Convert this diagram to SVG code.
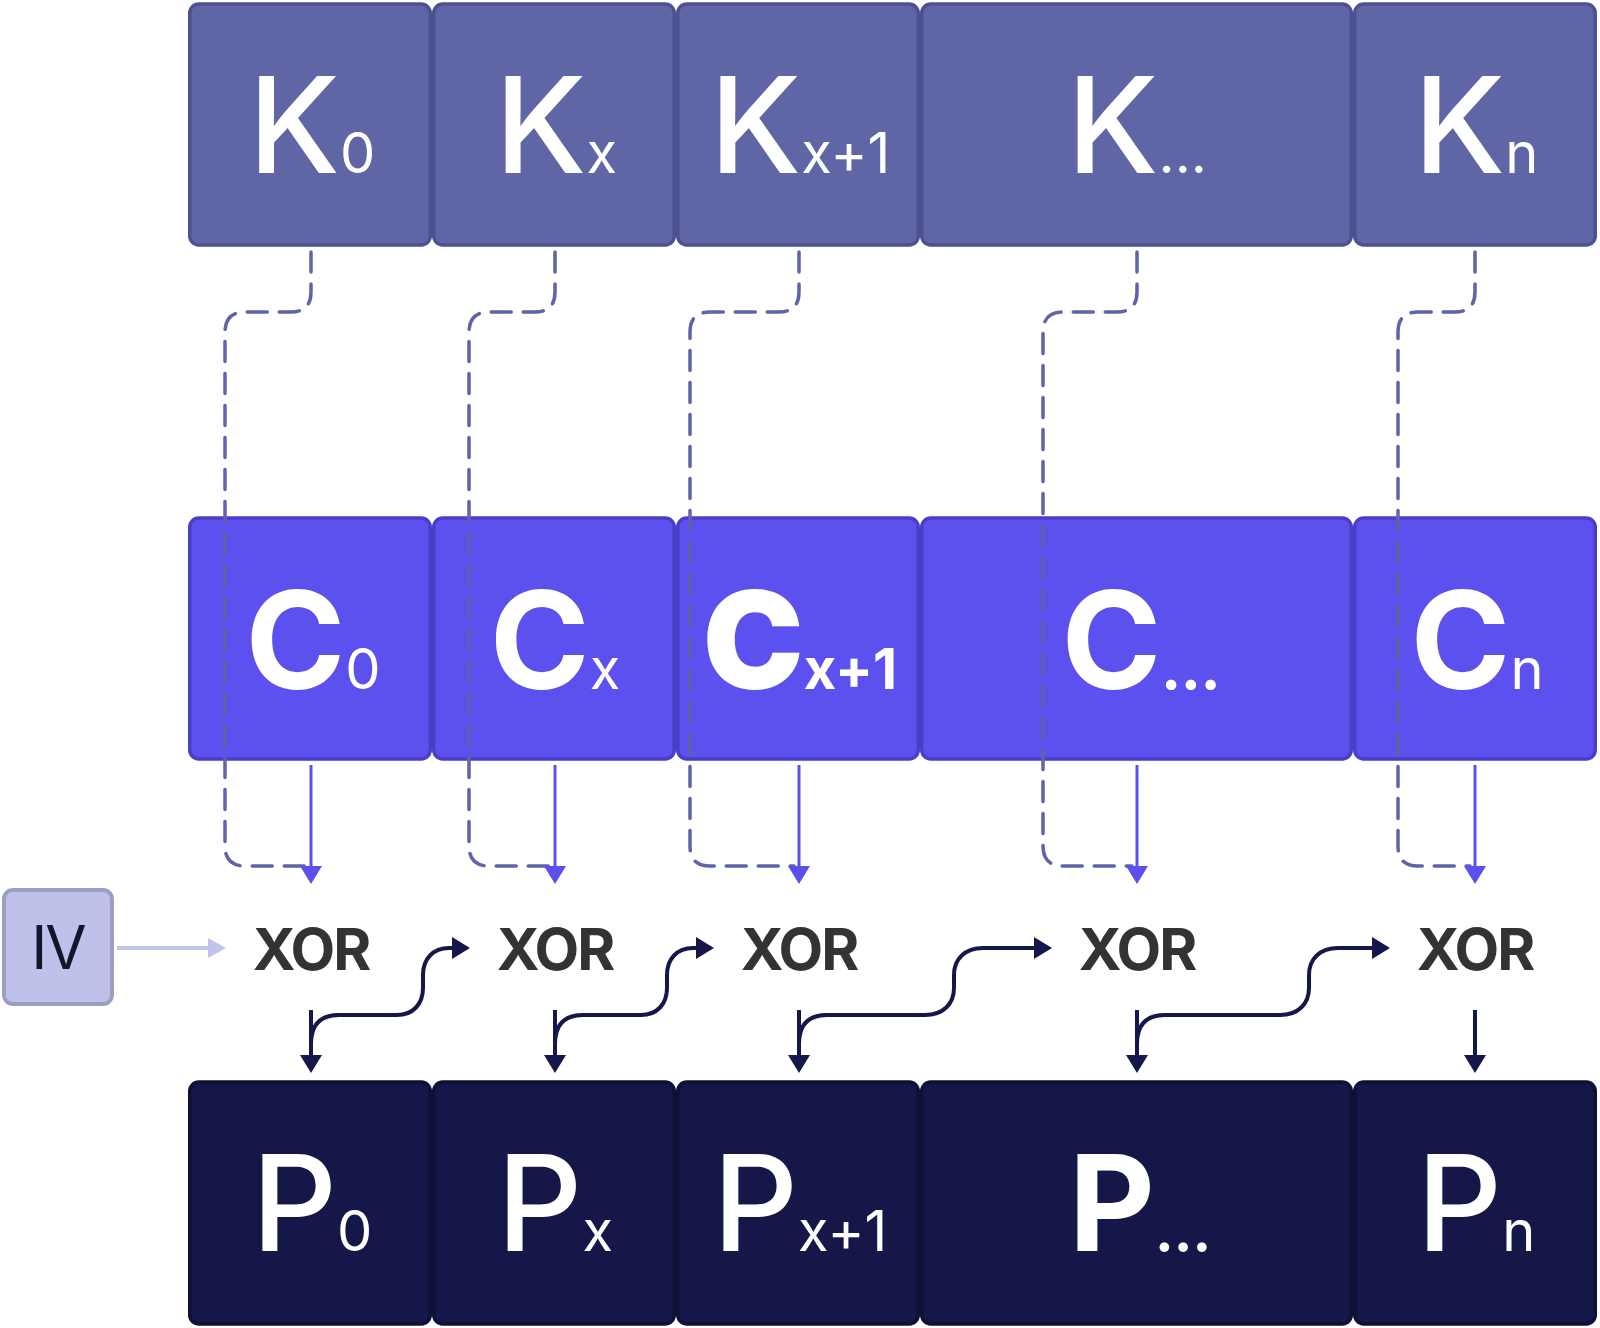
<svg xmlns="http://www.w3.org/2000/svg" width="1600" height="1328" viewBox="0 0 1600 1328">
<style>
.k{fill:#6065a6;stroke:#4c5190;stroke-width:3.5}
.c{fill:#5c50ee;stroke:#4a3ec8;stroke-width:3.5}
.p{fill:#141747;stroke:#0e1035;stroke-width:3.5}
.iv{fill:#bec2ea;stroke:#9c9fc4;stroke-width:4}
.t{font-family:Inter,'Noto Sans',sans-serif;fill:#ffffff;text-anchor:middle}
.big{font-size:133px;font-weight:500}
.bigc{font-size:135px;font-weight:700}
.sub{font-size:56px;font-weight:400}
.xor{font-family:Inter,'Noto Sans',sans-serif;font-size:58px;font-weight:700;fill:#333333;text-anchor:middle;letter-spacing:-2px}
.dash{fill:none;stroke:#5f63a8;stroke-width:3.5;stroke-dasharray:20 12;stroke-linecap:round}
.blue{fill:none;stroke:#5b4ff0;stroke-width:3}
.dark{fill:none;stroke:#15174a;stroke-width:4}
.light{fill:none;stroke:#c0c4ec;stroke-width:4}
</style>
<defs>
<marker id="ab" viewBox="0 0 18 22" refX="6" refY="11" markerWidth="18" markerHeight="22" markerUnits="userSpaceOnUse" orient="auto"><path d="M0,0 L18,11 L0,22 z" fill="#5b4ff0"/></marker>
<marker id="ad" viewBox="0 0 18 22" refX="6" refY="11" markerWidth="18" markerHeight="22" markerUnits="userSpaceOnUse" orient="auto"><path d="M0,0 L18,11 L0,22 z" fill="#15174a"/></marker>
<marker id="al" viewBox="0 0 18 20" refX="6" refY="10" markerWidth="18" markerHeight="20" markerUnits="userSpaceOnUse" orient="auto"><path d="M0,0 L18,10 L0,20 z" fill="#c0c4ec"/></marker>
</defs>

<g id="k0"><rect class="k" x="189.75" y="4" width="240.5" height="241" rx="9"/><text class="t big" x="312" y="173">K<tspan class="sub">0</tspan></text></g>
<g id="kx"><rect class="k" x="433.75" y="4" width="240.5" height="241" rx="9"/><text class="t big" x="556" y="173">K<tspan class="sub">x</tspan></text></g>
<g id="kx1"><rect class="k" x="677.75" y="4" width="240.5" height="241" rx="9"/><text class="t big" x="800" y="173">K<tspan class="sub">x+1</tspan></text></g>
<g id="kdots"><rect class="k" x="921.75" y="4" width="429.5" height="241" rx="9"/><text class="t big" x="1137" y="173">K<tspan class="sub">...</tspan></text></g>
<g id="kn"><rect class="k" x="1354.75" y="4" width="240.5" height="241" rx="9"/><text class="t big" x="1476" y="173">K<tspan class="sub">n</tspan></text></g>

<g id="c0"><rect class="c" x="189.75" y="518" width="240.5" height="241" rx="9"/><text class="t bigc" x="313" y="689">C<tspan class="sub">0</tspan></text></g>
<g id="cx"><rect class="c" x="433.75" y="518" width="240.5" height="241" rx="9"/><text class="t bigc" x="555" y="689">C<tspan class="sub">x</tspan></text></g>
<g id="cx1"><rect class="c" x="677.75" y="518" width="240.5" height="241" rx="9"/><text class="t bigc" x="800" y="689" style="font-weight:900">C<tspan class="sub" style="font-weight:700">x+1</tspan></text></g>
<g id="cdots"><rect class="c" x="921.75" y="518" width="429.5" height="241" rx="9"/><text class="t bigc" x="1141" y="689">C<tspan class="sub" style="font-weight:800">...</tspan></text></g>
<g id="cn"><rect class="c" x="1354.75" y="518" width="240.5" height="241" rx="9"/><text class="t bigc" x="1477" y="689">C<tspan class="sub">n</tspan></text></g>

<g id="p0"><rect class="p" x="189.75" y="1082" width="240.5" height="242" rx="9"/><text class="t big" x="312" y="1251">P<tspan class="sub">0</tspan></text></g>
<g id="px"><rect class="p" x="433.75" y="1082" width="240.5" height="242" rx="9"/><text class="t big" x="555" y="1251">P<tspan class="sub">x</tspan></text></g>
<g id="px1"><rect class="p" x="677.75" y="1082" width="240.5" height="242" rx="9"/><text class="t big" x="800" y="1251">P<tspan class="sub">x+1</tspan></text></g>
<g id="pdots"><rect class="p" x="921.75" y="1082" width="429.5" height="242" rx="9"/><text class="t big" x="1140" y="1251" style="font-weight:700">P<tspan class="sub" style="font-weight:700">...</tspan></text></g>
<g id="pn"><rect class="p" x="1354.75" y="1082" width="240.5" height="242" rx="9"/><text class="t big" x="1476" y="1251">P<tspan class="sub">n</tspan></text></g>

<g id="iv"><rect class="iv" x="4" y="890" width="108" height="114" rx="9"/><text x="58" y="969" font-family="Inter,'Noto Sans',sans-serif" font-size="60" font-weight="400" fill="#15152a" text-anchor="middle" letter-spacing="-2">IV</text></g>

<g id="xor0"><text class="xor" x="311" y="970">XOR</text></g>
<g id="xor1"><text class="xor" x="555" y="970">XOR</text></g>
<g id="xor2"><text class="xor" x="799" y="970">XOR</text></g>
<g id="xor3"><text class="xor" x="1137" y="970">XOR</text></g>
<g id="xor4"><text class="xor" x="1475" y="970">XOR</text></g>

<g id="connectors">
<path class="dash" d="M311,252 L311,292 Q311,312 291,312 L245,312 Q225,312 225,332 L225,846 Q225,866 245,866 L306,866"/>
<path class="dash" d="M555,252 L555,292 Q555,312 535,312 L489,312 Q469,312 469,332 L469,846 Q469,866 489,866 L550,866"/>
<path class="dash" d="M799,252 L799,292 Q799,312 779,312 L710,312 Q690,312 690,332 L690,846 Q690,866 710,866 L794,866"/>
<path class="dash" d="M1137,252 L1137,292 Q1137,312 1117,312 L1063,312 Q1043,312 1043,332 L1043,846 Q1043,866 1063,866 L1132,866"/>
<path class="dash" d="M1475,252 L1475,292 Q1475,312 1455,312 L1418,312 Q1398,312 1398,332 L1398,846 Q1398,866 1418,866 L1470,866"/>

<path class="blue" d="M311,765 L311,872" marker-end="url(#ab)"/>
<path class="blue" d="M555,765 L555,872" marker-end="url(#ab)"/>
<path class="blue" d="M799,765 L799,872" marker-end="url(#ab)"/>
<path class="blue" d="M1137,765 L1137,872" marker-end="url(#ab)"/>
<path class="blue" d="M1475,765 L1475,872" marker-end="url(#ab)"/>

<path class="light" d="M117,948 L214,948" marker-end="url(#al)"/>

<path class="dark" d="M311,1010 L311,1061" marker-end="url(#ad)"/>
<path class="dark" d="M555,1010 L555,1061" marker-end="url(#ad)"/>
<path class="dark" d="M799,1010 L799,1061" marker-end="url(#ad)"/>
<path class="dark" d="M1137,1010 L1137,1061" marker-end="url(#ad)"/>
<path class="dark" d="M1475,1010 L1475,1061" marker-end="url(#ad)"/>

<path class="dark" d="M311,1044 C311,1024 321,1015 339,1015 L397,1015 C413,1015 423,1004 423,988 L423,975 C423,959 433,948 449,948 L458,948" marker-end="url(#ad)"/>
<path class="dark" d="M555,1044 C555,1024 565,1015 583,1015 L641,1015 C657,1015 667,1004 667,988 L667,975 C667,959 677,948 693,948 L702,948" marker-end="url(#ad)"/>
<path class="dark" d="M799,1044 C799,1024 809,1015 827,1015 L925,1015 C943,1015 954,1004 954,988 L954,975 C954,959 965,948 983,948 L1040,948" marker-end="url(#ad)"/>
<path class="dark" d="M1137,1044 C1137,1024 1147,1015 1165,1015 L1280,1015 C1298,1015 1309,1004 1309,988 L1309,975 C1309,959 1320,948 1338,948 L1378,948" marker-end="url(#ad)"/>
</g>
</svg>
